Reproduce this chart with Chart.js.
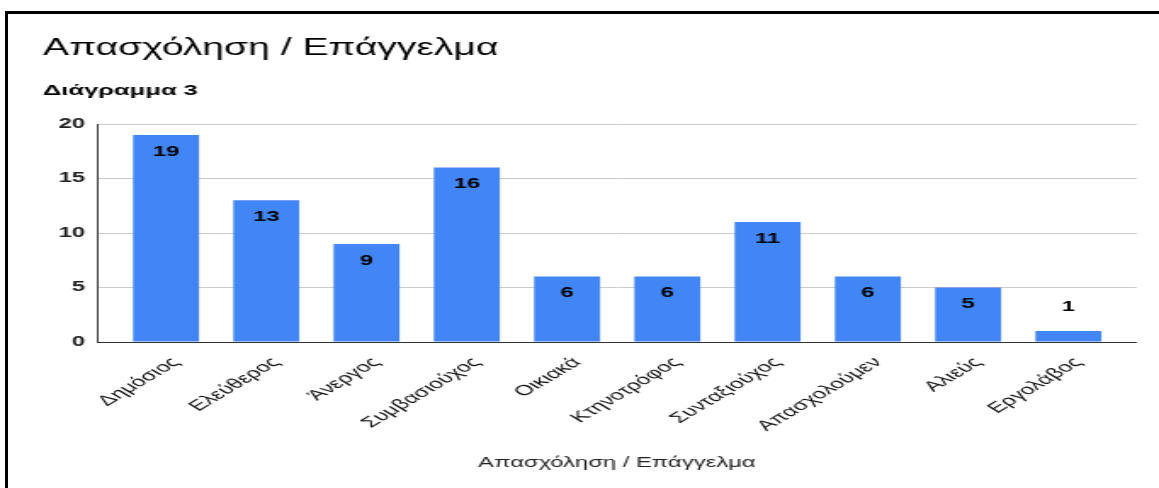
<!DOCTYPE html>
<html><head><meta charset="utf-8">
<script src="https://cdn.jsdelivr.net/npm/chart.js@4.4.1/dist/chart.umd.min.js"></script>
<style>
html,body{margin:0;padding:0;background:#fff;overflow:hidden}
#wrap{position:relative;width:1159px;height:488px;overflow:hidden}
#c{position:absolute;left:0;top:0}
#frame{position:absolute;left:5px;top:11px;width:1200px;height:520px;border-top:3px solid #000;border-left:3px solid #000;pointer-events:none}
</style></head>
<body>
<div id="wrap">
<canvas id="c" width="682" height="488" style="width:1159px;height:488px"></canvas>
<div id="frame"></div>
</div>
<script>
const chartTitle = 'Απασχόληση / Επάγγελμα';
const chartSubtitle = 'Διάγραμμα 3';
const axisTitle = 'Απασχόληση / Επάγγελμα';
const categories = ['Δημόσιος','Ελεύθερος','Άνεργος','Συμβασιούχος','Οικιακά','Κτηνοτρόφος','Συνταξιούχος','Απασχολούμεν','Αλιεύς','Εργολάβος'];
const counts = [19,13,9,16,6,6,11,6,5,1];
const yTicks = [0,5,10,15,20];

const FONT = '"Liberation Sans", Arial, sans-serif';

const titlePlugin = {
  id: 'titles',
  afterDraw(chart) {
    const ctx = chart.ctx;
    ctx.save();
    ctx.fillStyle = '#000';
    ctx.textAlign = 'left';
    ctx.textBaseline = 'alphabetic';
    ctx.font = '23px ' + FONT;
    ctx.fillText(chartTitle, 25.3, 55);
    ctx.font = 'bold 15px ' + FONT;
    ctx.fillText(chartSubtitle, 25.3, 95);
    ctx.restore();
  }
};

const valueLabels = {
  id: 'valueLabels',
  afterDatasetsDraw(chart) {
    const ctx = chart.ctx;
    const meta = chart.getDatasetMeta(0);
    ctx.save();
    ctx.fillStyle = '#000';
    ctx.font = 'bold 14px ' + FONT;
    ctx.textAlign = 'center';
    ctx.textBaseline = 'middle';
    meta.data.forEach((el, i) => {
      const h = el.base - el.y;
      const y = h > 25 ? el.y + 17 : el.y - 24;
      ctx.fillText(String(counts[i]), el.x, y);
    });
    ctx.restore();
  }
};

new Chart(document.getElementById('c'), {
  type: 'bar',
  data: {
    datasets: [{
      data: counts.map((v, i) => ({x: i, y: v})),
      backgroundColor: '#4285f4',
      borderWidth: 0,
      categoryPercentage: 0.658,
      barPercentage: 1
    }]
  },
  options: {
    responsive: false,
    animation: false,
    events: [],
    layout: {padding: {left: 0, right: 13.2, top: 124, bottom: 12}},
    plugins: {legend: {display: false}, tooltip: {enabled: false}, title: {display: false}},
    scales: {
      x: {
        type: 'linear',
        offset: false,
        min: -0.688,
        max: 9.68,
        grid: {display: false, drawTicks: false, offset: false},
        border: {display: true, color: '#333', width: 1},
        afterBuildTicks(s) { s.ticks = categories.map((c, i) => ({value: i})); },
        afterFit(s) { s.height = 488 - 342 - 12; },
        ticks: {
          autoSkip: false,
          maxRotation: 45, minRotation: 45,
          padding: 12,
          labelOffset: 6,
          color: '#111',
          font: {family: FONT, size: 14.5},
          callback: (v) => categories[v]
        },
        title: {display: true, text: axisTitle, color: '#222', font: {family: FONT, size: 14}, padding: {top: 4, bottom: 4}}
      },
      y: {
        min: 0, max: 20,
        afterBuildTicks(s) { s.ticks = yTicks.map(v => ({value: v})); },
        afterFit(s) { s.width = 57.1; },
        grid: {color: '#cccccc', lineWidth: 1, drawTicks: false},
        border: {display: true, color: '#333', width: 1},
        ticks: {padding: 7, color: '#222', font: {family: FONT, size: 14, weight: 'bold'}}
      }
    }
  },
  plugins: [titlePlugin, valueLabels]
});
</script>
</body></html>
